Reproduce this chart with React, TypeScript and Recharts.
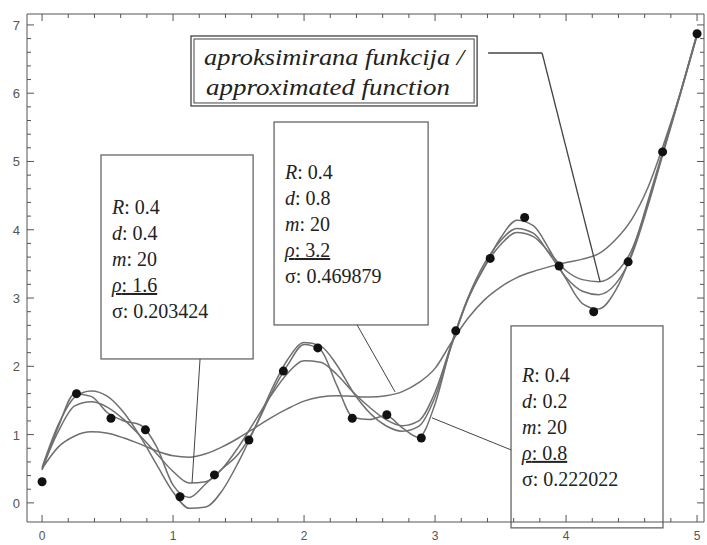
import { ComposedChart, Line, Scatter, XAxis, YAxis, ReferenceArea, ReferenceLine } from 'recharts';

const FRAME = '#555';
const CURVE = '#6f6f6f';
const SERIF = "'Liberation Serif', 'DejaVu Serif', 'Times New Roman', serif";
const SANS = "'Liberation Sans', Arial, sans-serif";

// sample grid for the smooth curves
const xGrid = [
  0, 0.125, 0.25, 0.375, 0.5, 0.625, 0.75, 0.875, 1, 1.125, 1.25, 1.375, 1.5, 1.625, 1.75, 1.875,
  2, 2.125, 2.25, 2.375, 2.5, 2.625, 2.75, 2.875, 3, 3.125, 3.25, 3.375, 3.5, 3.625, 3.75, 3.875,
  4, 4.125, 4.25, 4.375, 4.5, 4.625, 4.75, 4.875, 5,
];

const approxFn = [
  0.52, 1.15, 1.55, 1.64, 1.56, 1.32, 0.97, 0.56, 0.16, -0.08, -0.06, 0.18, 0.6, 1.1, 1.65, 2.1,
  2.35, 2.3, 2.02, 1.62, 1.32, 1.13, 1.05, 1.12, 1.55, 2.3, 2.98, 3.45, 3.78, 3.96, 3.9, 3.66,
  3.4, 3.27, 3.24, 3.36, 3.7, 4.38, 5.2, 6.02, 6.87,
];
const fitRho16 = [
  0.5, 1.05, 1.42, 1.48, 1.4, 1.22, 0.98, 0.72, 0.46, 0.29, 0.31, 0.5, 0.82, 1.2, 1.58, 1.9,
  2.08, 2.06, 1.88, 1.62, 1.4, 1.22, 1.13, 1.2, 1.62, 2.33, 3.0, 3.5, 3.84, 4.02, 3.95, 3.64,
  3.3, 3.1, 3.05, 3.2, 3.62, 4.35, 5.18, 6.0, 6.85,
];
const fitRho08 = [
  0.48, 1.12, 1.6, 1.56, 1.32, 1.2, 1.14, 0.82, 0.26, 0.08, 0.28, 0.5, 0.72, 1.1, 1.6, 2.02,
  2.32, 2.24, 1.72, 1.25, 1.22, 1.28, 1.1, 0.96, 1.45, 2.32, 2.98, 3.45, 3.88, 4.14, 4.06, 3.7,
  3.28, 2.92, 2.84, 3.1, 3.65, 4.42, 5.22, 6.02, 6.87,
];
const fitRho32 = [
  0.5, 0.82, 0.98, 1.04, 1.02, 0.95, 0.86, 0.76, 0.69, 0.67, 0.72, 0.82, 0.95, 1.1, 1.25, 1.38,
  1.49, 1.55, 1.57, 1.56, 1.55, 1.57, 1.63, 1.76, 1.97, 2.35, 2.7, 2.97, 3.16, 3.3, 3.39, 3.46,
  3.52, 3.57, 3.65, 3.85, 4.15, 4.62, 5.28, 6.02, 6.85,
];

// measured samples (m = 20)
const sampleX = [
  0, 0.263, 0.526, 0.789, 1.053, 1.316, 1.579, 1.842, 2.105, 2.368,
  2.632, 2.895, 3.158, 3.421, 3.684, 3.947, 4.211, 4.474, 4.737, 5,
];
const sampleY = [
  0.31, 1.6, 1.24, 1.07, 0.09, 0.41, 0.92, 1.93, 2.27, 1.24,
  1.29, 0.95, 2.52, 3.58, 4.18, 3.47, 2.8, 3.53, 5.14, 6.87,
];

const xLabels = [0, 1, 2, 3, 4, 5];
const yLabels = [0, 1, 2, 3, 4, 5, 6, 7];

const paramNames = ['R', 'd', 'm', 'ρ', 'σ'];
const box1Values = ['0.4', '0.4', '20', '1.6', '0.203424'];
const box2Values = ['0.4', '0.8', '20', '3.2', '0.469879'];
const box3Values = ['0.4', '0.2', '20', '0.8', '0.222022'];
const titleLines = ['aproksimirana funkcija /', 'approximated function'];
const titleWidths = [260, 244];

const curveData = xGrid.map((x, i) => ({
  x,
  approx: approxFn[i],
  r16: fitRho16[i],
  r08: fitRho08[i],
  r32: fitRho32[i],
}));
const sampleData = sampleX.map((x, i) => ({ x, y: sampleY[i] }));

const xMinor: number[] = [];
for (let i = 0; i <= 25; i++) xMinor.push(Math.round(i * 2) / 10);
const yMinor: number[] = [];
for (let i = 0; i <= 35; i++) yMinor.push(Math.round(i * 2) / 10);

const isMajor = (v: number) => Math.abs(v - Math.round(v)) < 1e-6;

function BottomTick({ x, y, payload }: any) {
  const major = isMajor(payload.value);
  return (
    <g>
      <line x1={x} y1={y} x2={x} y2={y - (major ? 7 : 4)} stroke={FRAME} />
      {major && xLabels.includes(payload.value) && (
        <text x={x} y={y + 18} textAnchor="middle" style={{ fontFamily: SANS }} fontSize={12} fill="#555">
          {payload.value}
        </text>
      )}
    </g>
  );
}

function TopTick({ x, y, payload }: any) {
  const major = isMajor(payload.value);
  return <line x1={x} y1={y} x2={x} y2={y + (major ? 7 : 4)} stroke={FRAME} />;
}

function LeftTick({ x, y, payload }: any) {
  const major = isMajor(payload.value);
  return (
    <g>
      <line x1={x} y1={y} x2={x + (major ? 7 : 4)} y2={y} stroke={FRAME} />
      {major && yLabels.includes(payload.value) && (
        <text x={x - 7} y={y + 5} textAnchor="end" style={{ fontFamily: SANS }} fontSize={13} fill="#555">
          {payload.value}
        </text>
      )}
    </g>
  );
}

function RightTick({ x, y, payload }: any) {
  const major = isMajor(payload.value);
  return <line x1={x} y1={y} x2={x - (major ? 7 : 4)} y2={y} stroke={FRAME} />;
}

function ParamBox({ x, y, width, height, values, textTop }: any) {
  return (
    <g>
      <rect x={x} y={y} width={width} height={height} fill="#fff" stroke="#666" strokeWidth={1.3} />
      {paramNames.map((name, i) => (
        <text
          key={name}
          x={x + 11}
          y={y + textTop + i * 26}
          style={{ fontFamily: SERIF }}
          fontSize={20}
          fill="#222"
          textDecoration={name === 'ρ' ? 'underline' : undefined}
        >
          <tspan fontStyle={name === 'σ' ? 'normal' : 'italic'}>{name}</tspan>
          {': ' + values[i]}
        </text>
      ))}
    </g>
  );
}

function TitleBox({ x, y, width, height }: any) {
  return (
    <g>
      <rect x={x} y={y} width={width} height={height} fill="#fff" stroke="#444" strokeWidth={1.3} />
      <rect x={x + 3} y={y + 3} width={width - 6} height={height - 6} fill="none" stroke="#444" strokeWidth={1} />
      {titleLines.map((t, i) => (
        <text
          key={t}
          x={x + width / 2 - (i === 1 ? 6 : 0)}
          y={y + 29 + i * 30}
          textAnchor="middle"
          style={{ fontFamily: SERIF }}
          fontStyle="italic"
          fontSize={23}
          fill="#222"
          textLength={titleWidths[i]}
          lengthAdjust="spacingAndGlyphs"
        >
          {t}
        </text>
      ))}
    </g>
  );
}

export default function App() {
  return (
    <div style={{ width: 707, height: 545, background: '#fff' }}>
      <style>{'body{margin:0}'}</style>
      <ComposedChart width={707} height={545} data={curveData} margin={{ top: 13, right: 0, left: 0, bottom: 0 }}>
        <XAxis
          dataKey="x"
          type="number"
          domain={[-0.115, 5.053]}
          allowDataOverflow
          ticks={xMinor}
          interval={0}
          height={23}
          tickSize={0}
          tickMargin={0}
          tickLine={false}
          tick={<BottomTick />}
          axisLine={{ stroke: FRAME }}
        />
        <XAxis
          xAxisId="top"
          orientation="top"
          dataKey="x"
          type="number"
          domain={[-0.115, 5.053]}
          allowDataOverflow
          ticks={xMinor}
          interval={0}
          height={1}
          tickSize={0}
          tickMargin={0}
          tickLine={false}
          tick={<TopTick />}
          axisLine={{ stroke: FRAME }}
        />
        <YAxis
          type="number"
          domain={[-0.28, 7.16]}
          allowDataOverflow
          ticks={yMinor}
          interval={0}
          width={27}
          tickSize={0}
          tickMargin={0}
          tickLine={false}
          tick={<LeftTick />}
          axisLine={{ stroke: FRAME }}
        />
        <YAxis
          yAxisId="right"
          orientation="right"
          type="number"
          domain={[-0.28, 7.16]}
          allowDataOverflow
          ticks={yMinor}
          interval={0}
          width={3}
          tickSize={0}
          tickMargin={0}
          tickLine={false}
          tick={<RightTick />}
          axisLine={{ stroke: FRAME }}
        />

        <Line dataKey="r32" type="monotone" stroke={CURVE} strokeWidth={1.5} dot={false} isAnimationActive={false} />
        <Line dataKey="r16" type="monotone" stroke={CURVE} strokeWidth={1.5} dot={false} isAnimationActive={false} />
        <Line dataKey="approx" type="monotone" stroke={CURVE} strokeWidth={1.5} dot={false} isAnimationActive={false} />
        <Line dataKey="r08" type="monotone" stroke={CURVE} strokeWidth={1.5} dot={false} isAnimationActive={false} />
        <Scatter
          data={sampleData}
          dataKey="y"
          isAnimationActive={false}
          shape={(p: any) => <circle cx={p.cx} cy={p.cy} r={4.5} fill="#111" />}
        />

        <ReferenceLine segment={[{ x: 1.206, y: 2.108 }, { x: 1.145, y: 0.293 }]} stroke="#444" ifOverflow="visible" />
        <ReferenceLine segment={[{ x: 2.405, y: 2.606 }, { x: 2.695, y: 1.625 }]} stroke="#444" ifOverflow="visible" />
        <ReferenceLine segment={[{ x: 3.58, y: 0.776 }, { x: 2.977, y: 1.245 }]} stroke="#444" ifOverflow="visible" />
        <ReferenceLine segment={[{ x: 3.405, y: 6.589 }, { x: 3.817, y: 6.589 }]} stroke="#444" strokeWidth={1.3} ifOverflow="visible" />
        <ReferenceLine segment={[{ x: 3.817, y: 6.589 }, { x: 4.26, y: 3.236 }]} stroke="#444" strokeWidth={1.3} ifOverflow="visible" />

        <ReferenceArea
          x1={0.45}
          x2={1.611}
          y1={2.108}
          y2={5.095}
          ifOverflow="visible"
          shape={(p: any) => <ParamBox {...p} values={box1Values} textTop={59} />}
        />
        <ReferenceArea
          x1={1.771}
          x2={2.947}
          y1={2.606}
          y2={5.578}
          ifOverflow="visible"
          shape={(p: any) => <ParamBox {...p} values={box2Values} textTop={57} />}
        />
        <ReferenceArea
          x1={3.58}
          x2={4.74}
          y1={-0.366}
          y2={2.592}
          ifOverflow="visible"
          shape={(p: any) => <ParamBox {...p} values={box3Values} textTop={56} />}
        />
        <ReferenceArea
          x1={1.137}
          x2={3.321}
          y1={5.813}
          y2={6.838}
          ifOverflow="visible"
          shape={(p: any) => <TitleBox {...p} />}
        />
      </ComposedChart>
    </div>
  );
}
